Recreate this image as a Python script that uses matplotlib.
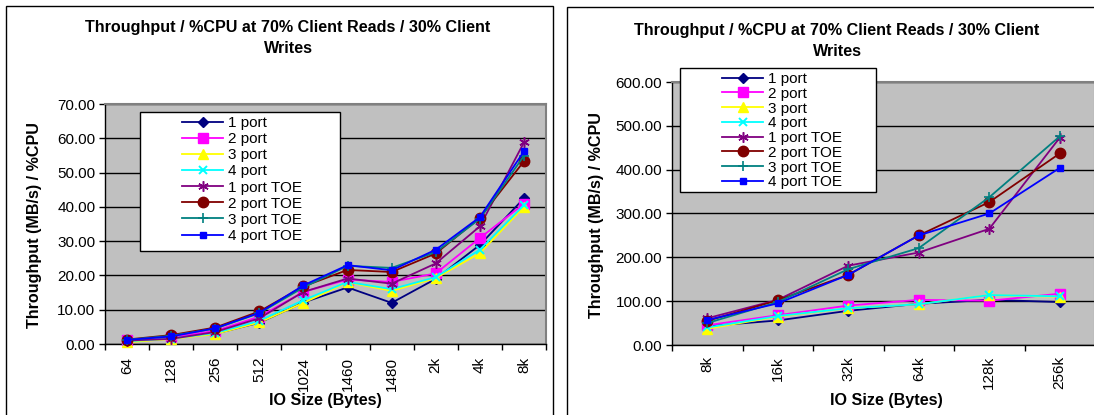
import matplotlib
matplotlib.use("Agg")
import matplotlib.pyplot as plt
from matplotlib.patches import Rectangle
from matplotlib.ticker import FixedLocator, FormatStrFormatter

plt.rcParams["font.family"] = ["Liberation Sans", "DejaVu Sans"]

# ---------------- data ----------------
small_sizes = ["64", "128", "256", "512", "1024", "1460", "1480", "2k", "4k", "8k"]
large_sizes = ["8k", "16k", "32k", "64k", "128k", "256k"]

series_labels = ["1 port", "2 port", "3 port", "4 port",
                 "1 port TOE", "2 port TOE", "3 port TOE", "4 port TOE"]

# Throughput / %CPU, small IO sizes
small_1p = [1.0, 1.8, 3.0, 6.2, 12.1, 16.5, 12.0, 19.0, 28.9, 42.5]
small_2p = [1.2, 2.0, 3.8, 8.0, 15.2, 18.8, 18.1, 20.6, 30.9, 40.9]
small_3p = [0.5, 1.5, 2.9, 6.3, 12.0, 18.0, 15.5, 19.2, 26.5, 40.0]
small_4p = [0.8, 1.6, 3.2, 6.8, 12.8, 18.1, 16.0, 19.5, 27.5, 40.5]
small_1t = [1.0, 1.5, 3.5, 7.5, 15.2, 19.1, 17.6, 23.5, 34.3, 58.8]
small_2t = [1.3, 2.6, 4.8, 9.5, 16.8, 21.6, 21.0, 26.4, 36.8, 53.3]
small_3t = [1.2, 2.4, 4.5, 9.0, 16.5, 22.8, 22.2, 26.8, 36.5, 54.9]
small_4t = [1.2, 2.2, 4.6, 9.1, 17.1, 23.0, 21.5, 27.5, 37.0, 56.2]

# Throughput / %CPU, large IO sizes
large_1p = [43, 56, 78, 94, 103, 98]
large_2p = [45, 68, 90, 103, 101, 117]
large_3p = [37, 65, 84, 93, 114, 110]
large_4p = [40, 66, 84, 93, 114, 111]
large_1t = [61, 103, 181, 211, 265, 473]
large_2t = [55, 102, 160, 250, 326, 437]
large_3t = [50, 98, 173, 221, 337, 476]
large_4t = [57, 95, 160, 250, 300, 404]

small_series = [small_1p, small_2p, small_3p, small_4p,
                 small_1t, small_2t, small_3t, small_4t]
large_series = [large_1p, large_2p, large_3p, large_4p,
                large_1t, large_2t, large_3t, large_4t]

# ---------------- styles ----------------
colors = ["#000080", "#FF00FF", "#FFFF00", "#00FFFF",
          "#800080", "#800000", "#008080", "#0000FF"]
markers = ["D", "s", "^", "x", (6, 2, 0), "o", "+", "s"]
msizes = [5.0, 6.5, 6.5, 6.0, 7.5, 7.5, 7.5, 4.0]
mews = [1.0, 1.0, 1.0, 1.4, 1.1, 1.0, 1.2, 1.0]

W, H = 1094, 415
FONT = 11
HEAD = 11.6


def fx(px):
    return px / W


def fy(py):
    return 1 - py / H


fig = plt.figure(figsize=(W / 100, H / 100), dpi=100)
fig.patch.set_facecolor("white")


def make_chart(rect_px, cats, series, ymax, ystep, title_xy, ylabel_xy,
               xlabel_xy, legend_box, legend_anchor, label_spacing,
               label_pad):
    x0, y0, x1, y1 = rect_px
    ax = fig.add_axes([fx(x0), fy(y1), fx(x1) - fx(x0), fy(y0) - fy(y1)])
    ax.set_facecolor("#C0C0C0")
    xs = list(range(len(cats)))
    handles = []
    for vals, c, m, ms, mew, lab in zip(series, colors, markers, msizes,
                                        mews, series_labels):
        ln, = ax.plot(xs, vals, color=c, marker=m, markersize=ms,
                      markerfacecolor=c, markeredgecolor=c,
                      markeredgewidth=mew, linewidth=1.3, label=lab,
                      clip_on=False, zorder=3)
        handles.append(ln)
    ax.set_xlim(-0.5, len(cats) - 0.5)
    ax.set_ylim(0, ymax)
    ax.set_xticks(xs)
    ax.set_xticklabels(cats, rotation=90, fontsize=FONT)
    ax.xaxis.set_minor_locator(FixedLocator([i - 0.5 for i in range(len(cats) + 1)]))
    ax.tick_params(axis="x", which="major", length=0, pad=label_pad)
    ax.tick_params(axis="x", which="minor", length=4, width=1, color="black",
                   direction="out")
    ax.set_yticks(range(0, ymax + 1, ystep))
    ax.yaxis.set_major_formatter(FormatStrFormatter("%.2f"))
    ax.tick_params(axis="y", length=4, width=1, color="black", direction="out",
                   labelsize=FONT, pad=3)
    ax.grid(axis="y", color="black", linewidth=1.0)
    ax.set_axisbelow(True)
    for side in ("left", "bottom"):
        ax.spines[side].set_color("black")
        ax.spines[side].set_linewidth(1.0)
    for side in ("top", "right"):
        ax.spines[side].set_color("#808080")
        ax.spines[side].set_linewidth(1.5)

    fig.text(fx(title_xy[0]), fy(title_xy[1]),
             "Throughput / %CPU at 70% Client Reads / 30% Client\nWrites",
             ha="center", va="center", fontsize=HEAD, fontweight="bold",
             linespacing=1.5)
    fig.text(fx(ylabel_xy[0]), fy(ylabel_xy[1]), "Throughput (MB/s) / %CPU",
             ha="center", va="center", rotation=90, fontsize=HEAD,
             fontweight="bold")
    fig.text(fx(xlabel_xy[0]), fy(xlabel_xy[1]), "IO Size (Bytes)",
             ha="center", va="center", fontsize=HEAD, fontweight="bold")

    bx0, by0, bx1, by1 = legend_box
    fig.patches.append(Rectangle((fx(bx0), fy(by1)), fx(bx1) - fx(bx0),
                                 fy(by0) - fy(by1), transform=fig.transFigure,
                                 facecolor="white", edgecolor="black",
                                 linewidth=1.0, zorder=4))
    fig.legend(handles, series_labels, loc="upper left",
               bbox_to_anchor=(fx(legend_anchor[0]), fy(legend_anchor[1])),
               frameon=False, fontsize=FONT, borderpad=0, borderaxespad=0,
               handlelength=2.7, handletextpad=0.3,
               labelspacing=label_spacing, markerscale=1.0)
    return ax


make_chart((105, 104, 546, 344), small_sizes, small_series, 70, 10,
           title_xy=(288, 38), ylabel_xy=(35, 225), xlabel_xy=(325, 400),
           legend_box=(140, 112, 340, 251), legend_anchor=(182, 116),
           label_spacing=0.14, label_pad=9)

make_chart((672, 82, 1095, 345), large_sizes, large_series, 600, 100,
           title_xy=(837, 41), ylabel_xy=(597, 215), xlabel_xy=(886, 400),
           legend_box=(680, 68, 876, 192), legend_anchor=(722, 72),
           label_spacing=0.05, label_pad=8)

# outer chart borders
fig.patches.append(Rectangle((fx(6), fy(430)), fx(553) - fx(6), fy(6) - fy(430),
                             transform=fig.transFigure, fill=False,
                             edgecolor="black", linewidth=1.0, zorder=6))
fig.patches.append(Rectangle((fx(567), fy(430)), fx(1110) - fx(567),
                             fy(7) - fy(430), transform=fig.transFigure,
                             fill=False, edgecolor="black", linewidth=1.0,
                             zorder=6))

fig.savefig("out.png", dpi=100)
